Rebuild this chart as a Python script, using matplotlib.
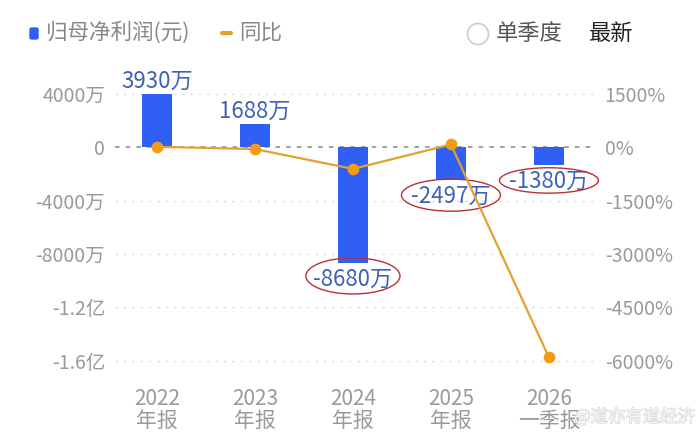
import numpy as np
import matplotlib
matplotlib.use("Agg")
import matplotlib.pyplot as plt
import matplotlib.patheffects as pe
from matplotlib.patches import Ellipse, FancyBboxPatch

plt.rcParams['font.family'] = ['Noto Sans CJK SC', 'DejaVu Sans']

categories = ["2022\n年报", "2023\n年报", "2024\n年报", "2025\n年报", "2026\n一季报"]
profit = [3930e4, 1688e4, -8680e4, -2497e4, -1380e4]   # 元
profit_labels = ["3930万", "1688万", "-8680万", "-2497万", "-1380万"]
yoy = [5, -57, -614, 71, -5900]   # %
left_ticks = [4e7, 0, -4e7, -8e7, -1.2e8, -1.6e8]
left_ticklabels = ["4000万", "0", "-4000万", "-8000万", "-1.2亿", "-1.6亿"]
right_ticks = [1500, 0, -1500, -3000, -4500, -6000]
right_ticklabels = ["1500%", "0%", "-1500%", "-3000%", "-4500%", "-6000%"]

bar_color = "#2f5ff5"
line_color = "#e3a22f"
marker_color = "#f59a14"
tick_color = "#9a9a9a"
label_color = "#3d63b8"
ring_color = "#b8303a"

fig = plt.figure(figsize=(7, 4.33), dpi=100)
ax = fig.add_axes([0.164, 0.1416, 0.686, 0.698])
ax2 = ax.twinx()

x = np.arange(len(categories))
ax.bar(x, profit, width=0.30, color=bar_color, zorder=2)

ylo, yhi = -1.68e8, 0.58e8
ax.set_ylim(ylo, yhi)
ax2.set_ylim(ylo / 4e7 * 1500, yhi / 4e7 * 1500)
ax.set_xlim(-0.43, 4.47)

for t in left_ticks:
    if t == 0:
        ax.axhline(0, color="#888888", lw=1.1, ls=(0, (3, 4)), zorder=1)
    else:
        ax.axhline(t, color="#dddddd", lw=1.0, ls=(0, (2, 4)), zorder=1)

ax.set_yticks(left_ticks)
ax.set_yticklabels(left_ticklabels)
ax2.set_yticks(right_ticks)
ax2.set_yticklabels(right_ticklabels)
ax.set_xticks(x)
ax.set_xticklabels(categories, linespacing=0.95)

for a in (ax, ax2):
    for s in a.spines.values():
        s.set_visible(False)
    a.tick_params(length=0, colors=tick_color, labelsize=14)
ax.tick_params(axis="x", labelsize=15, pad=12)
ax.tick_params(axis="y", pad=7)
ax2.tick_params(axis="y", pad=7)

# bar value labels
for i, (v, lab) in enumerate(zip(profit, profit_labels)):
    if v >= 0:
        ax.text(i, v + 0.15e7, lab, ha="center", va="bottom", color=label_color, fontsize=16, zorder=5)
    else:
        ax.text(i, v - 1.2e7, lab, ha="center", va="center", color=label_color, fontsize=16, zorder=5)

# hand drawn rings round the loss labels
rings = [(2, -9.64e7, 0.96, 2.7e7), (3, -3.6e7, 1.01, 2.4e7), (4, -2.5e7, 1.01, 1.9e7)]
for cx, cy, w, h in rings:
    ax.add_patch(Ellipse((cx, cy), w, h, fill=False, edgecolor=ring_color, lw=1.0, zorder=6, clip_on=False))

ax2.plot(x, yoy, color=line_color, lw=1.6, zorder=3)
ax2.scatter(x, yoy, s=55, color=marker_color, zorder=4)
# line above the bars
ax2.set_zorder(3)
ax.set_zorder(2)
ax2.patch.set_visible(False)

# header / legend
fig.patches.append(FancyBboxPatch((30 / 700, 1 - 39 / 433), 8 / 700, 11 / 433,
                                  boxstyle="round,pad=0,rounding_size=0.003", transform=fig.transFigure,
                                  color=bar_color, figure=fig))
fig.text(46 / 700, 1 - 33 / 433, "归母净利润(元)", color="#888888", fontsize=15.5, va="center")
fig.lines.append(plt.Line2D([222 / 700, 231 / 700], [1 - 33 / 433, 1 - 33 / 433], color=line_color, lw=3,
                            solid_capstyle="round", transform=fig.transFigure, figure=fig))
fig.text(239 / 700, 1 - 33 / 433, "同比", color="#888888", fontsize=15.5, va="center")
fig.patches.append(Ellipse((478 / 700, 1 - 34 / 433), 21 / 700, 21 / 433, transform=fig.transFigure,
                           fill=False, edgecolor="#cccccc", lw=1.2, figure=fig))
fig.text(496 / 700, 1 - 33 / 433, "单季度", color="#555555", fontsize=16, va="center")
fig.text(589 / 700, 1 - 33 / 433, "最新", color="#222222", fontsize=16, va="center")

# watermark
wm = fig.text(695 / 700, 1 - 417 / 433, "@道亦有道经济", color="#f6f6f6", fontsize=12.5,
              ha="right", va="center")
wm.set_path_effects([pe.withStroke(linewidth=0.8, foreground="#d2d2d2")])

fig.savefig("out.png", dpi=100)
